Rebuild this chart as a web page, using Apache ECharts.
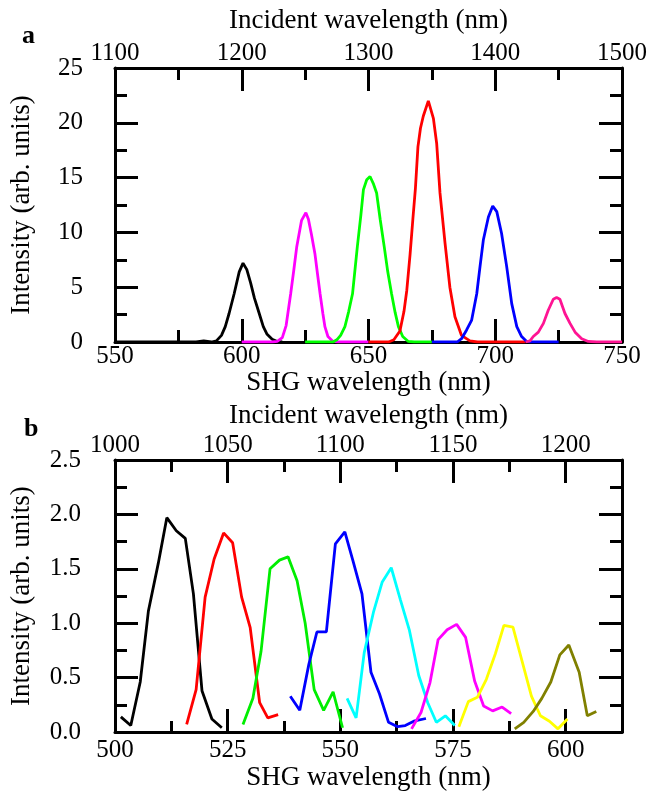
<!DOCTYPE html>
<html>
<head>
<meta charset="utf-8">
<script src="https://cdn.jsdelivr.net/npm/echarts@6/dist/echarts.min.js"></script>
<style>
  html, body { margin: 0; padding: 0; background: #fff; }
  #chart { width: 652px; height: 792px; }
</style>
</head>
<body>
<div id="chart"></div>
<script>
// ---- panel a : [SHG wavelength (nm), intensity] ----
var aBlack = [[550,0],[582,0],[585,0.1],[588,0],[590,0.1],[592,0.6],[593.5,1.4],[595,2.6],[597,4.4],[599,6.4],[600.5,7.2],[602,6.6],[603.5,5.4],[605,4.0],[606.5,2.9],[608.5,1.4],[610,0.7],[612,0.25],[614,0.05],[616,0]]
var aMagenta = [[600,0],[612,0],[614,0.05],[616,0.4],[617.5,1.5],[619.3,4.4],[620.5,6.5],[621.7,8.7],[623.6,11.1],[625.3,11.8],[626.3,11.2],[627.5,9.8],[628.9,8.0],[630,6.0],[630.9,4.4],[632,2.6],[632.8,1.4],[634,0.5],[636,0.05],[638,0],[650,0]]
var aGreen = [[625,0],[636,0],[637.5,0.2],[639,0.6],[640.7,1.4],[642.2,2.8],[643.7,4.4],[645.6,8.7],[647,11.6],[648,13.9],[649.3,14.8],[650.6,15.1],[652,14.4],[653.2,13.6],[654.6,11.2],[656.2,8.7],[657.6,6.4],[659.1,4.4],[660.5,2.7],[661.8,1.4],[663.5,0.5],[665.7,0.05],[668,0],[675,0]]
var aRed = [[650,0],[658,0],[660,0.2],[662.4,1.0],[664,2.8],[665.1,4.7],[666.4,8],[667.5,11.2],[668.5,14],[669.5,17.8],[670.5,19.5],[671.6,20.6],[673.6,22.0],[675.6,20.4],[676.9,18.1],[678.2,13.6],[680.2,9.0],[682.1,5.0],[684.1,2.3],[686.7,0.6],[690,0.1],[693,0],[712,0]]
var aBlue = [[675,0],[685,0],[686.7,0.3],[688.7,1.1],[690.7,2.0],[692.7,4.4],[694,6.9],[695.3,9.3],[697.3,11.4],[699,12.4],[700.6,11.9],[702.5,9.9],[704.5,6.9],[706.5,3.5],[708.5,1.4],[710.4,0.5],[712.4,0.05],[714,0],[725,0]]
var aPink = [[712,0],[713.7,0.1],[715,0.5],[717,0.9],[719,1.7],[720.9,2.9],[722.9,3.9],[724.2,4.05],[725.5,3.9],[727.5,2.6],[729.5,1.7],[731.5,0.9],[734.1,0.3],[736.7,0.05],[740,0],[750,0]]

// ---- panel b ----
var bBlack = [[501.3,0.14],[503.5,0.06],[505.6,0.46],[507.4,1.11],[509.6,1.55],[511.5,1.97],[513.6,1.85],[515.6,1.78],[517.4,1.27],[519.3,0.38],[521.5,0.12],[523.7,0.04]]
var bRed = [[515.9,0.07],[518,0.39],[520,1.24],[522,1.59],[524.1,1.83],[526.1,1.74],[528.1,1.24],[530,0.96],[532.1,0.27],[533.9,0.13],[536.2,0.16]]
var bGreen = [[528.4,0.07],[530.6,0.31],[532.4,0.74],[534.4,1.5],[536.5,1.58],[538.4,1.61],[540.4,1.39],[542.2,1.0],[544.2,0.39],[546.3,0.2],[548.4,0.37],[550.5,0.04]]
var bBlue = [[538.9,0.33],[541,0.2],[543,0.62],[544.8,0.92],[546.9,0.92],[548.9,1.73],[551,1.84],[552.9,1.56],[554.8,1.27],[556.8,0.55],[558.7,0.35],[560.7,0.09],[562.7,0.05],[564.4,0.06],[566.3,0.1],[569,0.125]]
var bCyan = [[551.5,0.31],[553.5,0.13],[555.3,0.73],[557.4,1.11],[559.3,1.38],[561.3,1.51],[563.3,1.22],[565.3,0.94],[567.4,0.52],[569.4,0.27],[571.3,0.09],[573.3,0.15],[575.4,0.06]]
var bMagenta = [[565.8,0.03],[567.9,0.18],[569.9,0.455],[571.7,0.85],[573.7,0.94],[575.8,0.99],[577.8,0.87],[579.8,0.47],[581.8,0.24],[583.8,0.195],[585.9,0.23],[587.9,0.17]]
var bYellow = [[576.3,0.05],[578.4,0.28],[580.4,0.32],[582.4,0.485],[584.4,0.72],[586.3,0.98],[588.3,0.965],[590.4,0.64],[592.4,0.33],[594.4,0.15],[596.4,0.1],[598.3,0.03],[600.4,0.12]]
var bOlive = [[588.7,0.03],[590.7,0.09],[592.8,0.19],[594.7,0.31],[596.7,0.46],[598.7,0.71],[600.7,0.8],[603,0.55],[604.8,0.15],[606.8,0.19]]

var font = 'Liberation Serif'
// onZero off, otherwise the top axes get pulled down to y = 0
var axisLine = { onZero: false, lineStyle: { color: '#000', width: 3 } }

var chart = echarts.init(document.getElementById('chart'))

function tick(len) {
  return { show: true, inside: true, length: len, lineStyle: { color: '#000', width: 3 } }
}
function minor(len) {
  return { show: true, splitNumber: 2, length: len, lineStyle: { color: '#000', width: 3 } }
}
function plain(v) {
  return String(v)
}
function lbl(margin, extra) {
  return Object.assign({ fontFamily: font, fontSize: 25, color: '#000', margin: margin, formatter: plain }, extra || {})
}
function nameStyle() {
  return { fontFamily: font, fontSize: 27, color: '#000' }
}

function line(data, color, xi, yi) {
  return {
    type: 'line', data: data, xAxisIndex: xi, yAxisIndex: yi,
    showSymbol: false, symbol: 'none',
    lineStyle: { color: color, width: 2.8 },
    animation: false
  }
}

var option = {
  backgroundColor: '#fff',
  animation: false,
  title: [
    { text: 'a', left: 17, top: 18, textStyle: { fontFamily: font, fontSize: 26, fontWeight: 'bold', color: '#000' } },
    { text: 'b', left: 19, top: 411, textStyle: { fontFamily: font, fontSize: 26, fontWeight: 'bold', color: '#000' } }
  ],
  grid: [
    { left: 115, top: 68, width: 507, height: 274 },
    { left: 115, top: 460, width: 507, height: 273 },
    { left: 115, top: 460, width: 507, height: 273 }
  ],
  xAxis: [
    // panel a
    { gridIndex: 0, type: 'value', position: 'bottom', min: 550, max: 750, interval: 50,
      name: 'SHG wavelength (nm)', nameLocation: 'middle', nameGap: 23, nameTextStyle: nameStyle(),
      axisLine: axisLine, axisTick: tick(23), minorTick: minor(12), splitLine: { show: false },
      axisLabel: lbl(2) },
    { gridIndex: 0, type: 'value', position: 'top', min: 1100, max: 1500, interval: 100,
      name: 'Incident wavelength (nm)', nameLocation: 'middle', nameGap: 34, nameTextStyle: nameStyle(),
      axisLine: axisLine, axisTick: tick(23), minorTick: minor(12), splitLine: { show: false },
      axisLabel: lbl(2) },
    // panel b
    { gridIndex: 1, type: 'value', position: 'bottom', min: 500, max: 612.5, interval: 25,
      name: 'SHG wavelength (nm)', nameLocation: 'middle', nameGap: 31, nameTextStyle: nameStyle(),
      axisLine: axisLine, axisTick: tick(23), splitLine: { show: false },
      axisLabel: lbl(6, { showMaxLabel: false }) },
    { gridIndex: 1, type: 'value', position: 'top', min: 1000, max: 1225, interval: 50,
      name: 'Incident wavelength (nm)', nameLocation: 'middle', nameGap: 31, nameTextStyle: nameStyle(),
      axisLine: axisLine, axisTick: tick(23), splitLine: { show: false },
      axisLabel: lbl(2, { showMaxLabel: false }) },
    // panel b minor ticks (range does not end on a major tick)
    { gridIndex: 2, type: 'value', position: 'bottom', min: 500, max: 612.5, interval: 12.5,
      axisLine: { show: false, onZero: false }, axisTick: tick(12), axisLabel: { show: false }, splitLine: { show: false } },
    { gridIndex: 2, type: 'value', position: 'top', min: 1000, max: 1225, interval: 25,
      axisLine: { show: false, onZero: false }, axisTick: tick(12), axisLabel: { show: false }, splitLine: { show: false } }
  ],
  yAxis: [
    { gridIndex: 0, type: 'value', position: 'left', min: 0, max: 25, interval: 5,
      name: 'Intensity (arb. units)', nameLocation: 'middle', nameGap: 80, nameTextStyle: nameStyle(),
      axisLine: axisLine, axisTick: tick(23), minorTick: minor(12), splitLine: { show: false },
      axisLabel: lbl(32) },
    { gridIndex: 0, type: 'value', position: 'right', min: 0, max: 25, interval: 5,
      axisLine: axisLine, axisTick: tick(23), minorTick: minor(12), splitLine: { show: false },
      axisLabel: { show: false } },
    { gridIndex: 1, type: 'value', position: 'left', min: 0, max: 2.5, interval: 0.5,
      name: 'Intensity (arb. units)', nameLocation: 'middle', nameGap: 80, nameTextStyle: nameStyle(),
      axisLine: axisLine, axisTick: tick(23), minorTick: minor(12), splitLine: { show: false },
      axisLabel: lbl(34, { formatter: function (v) { return v.toFixed(1) } }) },
    { gridIndex: 1, type: 'value', position: 'right', min: 0, max: 2.5, interval: 0.5,
      axisLine: axisLine, axisTick: tick(23), minorTick: minor(12), splitLine: { show: false },
      axisLabel: { show: false } },
    { gridIndex: 2, type: 'value', min: 0, max: 2.5, show: false }
  ],
  series: [
    line(aBlack, '#000000', 0, 0),
    line(aMagenta, '#ff00ff', 0, 0),
    line(aGreen, '#00ff00', 0, 0),
    line(aRed, '#ff0000', 0, 0),
    line(aBlue, '#0000ff', 0, 0),
    line(aPink, '#ff1493', 0, 0),
    line(bBlack, '#000000', 2, 2),
    line(bRed, '#ff0000', 2, 2),
    line(bGreen, '#00ee00', 2, 2),
    line(bBlue, '#0000ff', 2, 2),
    line(bCyan, '#00ffff', 2, 2),
    line(bMagenta, '#ff00ff', 2, 2),
    line(bYellow, '#ffff00', 2, 2),
    line(bOlive, '#808000', 2, 2)
  ]
}

chart.setOption(option)
</script>
</body>
</html>
